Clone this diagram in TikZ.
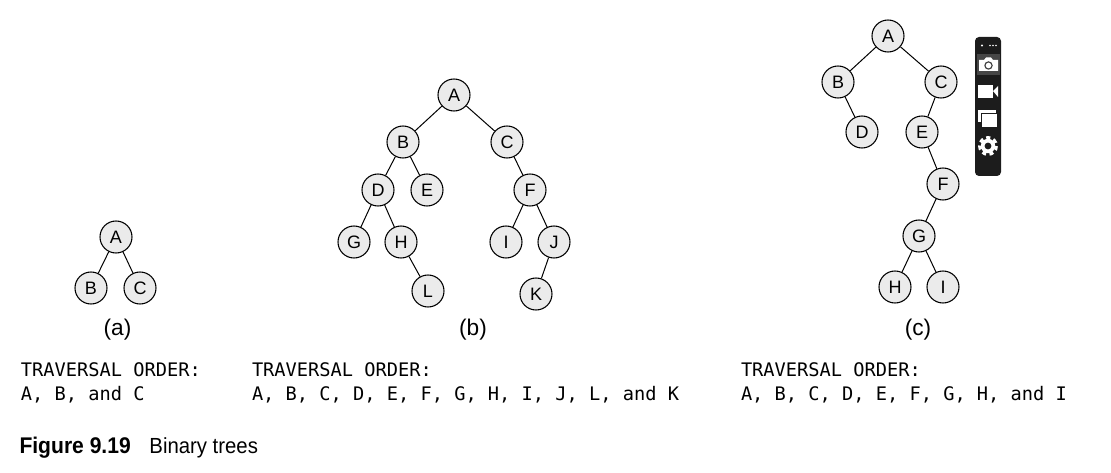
\documentclass[tikz,border=0pt]{standalone}
\usepackage{fontspec}
\setmainfont{Liberation Sans}
\setmonofont{DejaVu Sans Mono}
\newfontfamily\capfont[FakeStretch=0.93]{Liberation Sans}
\definecolor{keyfill}{RGB}{235,235,235}
\definecolor{barblack}{RGB}{28,28,28}
\definecolor{barsel}{RGB}{70,70,70}
\tikzset{every picture/.style={line width=0.75pt}}
\tikzset{
  keynode/.style={circle,draw=black,fill=keyfill,line width=0.8pt,minimum size=24pt,inner sep=0pt,font=\fontsize{13.5}{15}\selectfont},
  subcap/.style={inner sep=0.75pt,font=\fontsize{17}{18}\selectfont},
  ordertext/.style={anchor=north west,inner sep=0pt,align=left,font=\ttfamily\fontsize{14}{18}\selectfont},
}
\begin{document}
\begin{tikzpicture}[x=0.75pt,y=0.75pt,yscale=-1,xscale=1]
\useasboundingbox (0,0) rectangle (1111,473);

% Tree (a)
\node [keynode] (aA) at (116,237) {A};
\node [keynode] (aB) at (91,288) {B};
\node [keynode] (aC) at (140,288) {C};
\draw (aA) -- (aB);
\draw (aA) -- (aC);

% Tree (b)
\node [keynode] (bA) at (454,95) {A};
\node [keynode] (bB) at (403,142) {B};
\node [keynode] (bC) at (507,142) {C};
\node [keynode] (bD) at (378,190) {D};
\node [keynode] (bE) at (427,190) {E};
\node [keynode] (bF) at (530,190) {F};
\node [keynode] (bG) at (354,242) {G};
\node [keynode] (bH) at (401,242) {H};
\node [keynode] (bI) at (506,242) {I};
\node [keynode] (bJ) at (554,242) {J};
\node [keynode] (bL) at (428,291) {L};
\node [keynode] (bK) at (536,294) {K};
\draw (bA) -- (bB);
\draw (bA) -- (bC);
\draw (bB) -- (bD);
\draw (bB) -- (bE);
\draw (bC) -- (bF);
\draw (bD) -- (bG);
\draw (bD) -- (bH);
\draw (bF) -- (bI);
\draw (bF) -- (bJ);
\draw (bH) -- (bL);
\draw (bJ) -- (bK);

% Tree (c)
\node [keynode] (cA) at (888,36) {A};
\node [keynode] (cB) at (838,82) {B};
\node [keynode] (cC) at (941,82) {C};
\node [keynode] (cD) at (862,132) {D};
\node [keynode] (cE) at (922,132) {E};
\node [keynode] (cF) at (943,184) {F};
\node [keynode] (cG) at (919,236) {G};
\node [keynode] (cH) at (895,287) {H};
\node [keynode] (cI) at (943,287) {I};
\draw (cA) -- (cB);
\draw (cA) -- (cC);
\draw (cB) -- (cD);
\draw (cC) -- (cE);
\draw (cE) -- (cF);
\draw (cF) -- (cG);
\draw (cG) -- (cH);
\draw (cG) -- (cI);

% Sub captions
\node [subcap] (capa) at (117.5,330) {(a)};
\node [subcap] (capb) at (473,330) {(b)};
\node [subcap] (capc) at (918,330) {(c)};

% Traversal text
\node [ordertext] (orda) at (20.5,362) {TRAVERSAL ORDER:\\A, B, and C};
\node [ordertext] (ordb) at (251.5,362) {TRAVERSAL ORDER:\\A, B, C, D, E, F, G, H, I, J, L, and K};
\node [ordertext] (ordc) at (740.5,362) {TRAVERSAL ORDER:\\A, B, C, D, E, F, G, H, and I};

% Figure caption
\node [anchor=west,inner sep=0pt,font=\capfont\fontsize{17}{19}\selectfont] (figcap) at (19,447.5) {\textbf{Figure 9.19}\hspace{14pt}{\fontsize{16.4}{19}\selectfont Binary trees}};

% Toolbar
\fill [barblack,rounded corners=3pt] (975,37) rectangle (1001,176);
\fill [barsel] (977,54) rectangle (1000,75);
\fill [white] (982,45.5) circle (1.2);
\fill [white] (990,45.5) circle (0.9);
\fill [white] (993,45.5) circle (0.9);
\fill [white] (996,45.5) circle (0.9);
% camera
\fill [white] (979,60) -- (984,60) -- (986,57.5) -- (991,57.5) -- (993,60) -- (998,60) -- (998,71) -- (979,71) -- cycle;
\draw [barsel,line width=0.9pt] (988.5,65.5) circle (3.6);
% video
\fill [white] (978,85) rectangle (993,98);
\fill [white] (993,91) -- (998,86) -- (998,97) -- cycle;
% pages
\fill [white] (978,110) rectangle (996,122);
\fill [barblack] (981,113) rectangle (997.5,127.5);
\fill [white] (982,114) rectangle (997,127);
% gear
\fill [white] (988,146) circle (7.2);
\draw [white,line width=2.6pt,dash pattern=on 3pt off 2.5pt] (988,146) circle (8.2);
\fill [barblack] (988,146) circle (3.4);
\end{tikzpicture}
\end{document}
